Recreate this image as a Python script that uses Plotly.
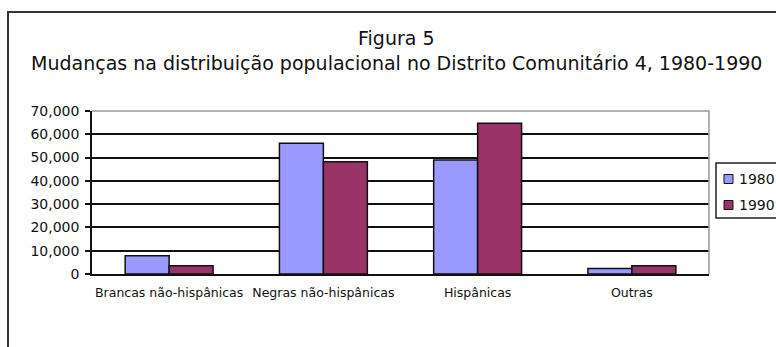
import plotly.graph_objects as go

categories = ["Brancas não-hispânicas", "Negras não-hispânicas", "Hispânicas", "Outras"]
series_names = ["1980", "1990"]
values_1980 = [7800, 56100, 49000, 2400]
values_1990 = [3500, 48200, 64700, 3500]
colors = ["#9999FF", "#993366"]
y_ticks = [0, 10000, 20000, 30000, 40000, 50000, 60000, 70000]

W, H = 776, 347
L, R, T, B = 92, 709, 111, 274  # plot area pixels


def px(x):
    return (x - L) / (R - L)


def py(y):
    return (B - y) / (B - T)


fig = go.Figure()
for name, vals, col in zip(series_names, [values_1980, values_1990], colors):
    fig.add_trace(go.Bar(
        x=categories, y=vals, name=name,
        marker=dict(color=col, line=dict(color="#111111", width=1.5)),
        showlegend=False,
    ))

shapes = []
# plot area border (top & right), gray
shapes.append(dict(type="path", xref="paper", yref="paper",
                   path="M 0,1 L 1,1 L 1,0", line=dict(color="#999999", width=1.5),
                   layer="above"))
# outer chart frame (top & left)
shapes.append(dict(type="path", xref="paper", yref="paper",
                   path=f"M {px(8)},{py(350)} L {px(8)},{py(12)} L {px(780)},{py(12)}",
                   line=dict(color="#333333", width=2)))
# legend box
shapes.append(dict(type="rect", xref="paper", yref="paper",
                   x0=px(716), x1=px(790), y0=py(218), y1=py(163),
                   line=dict(color="#222222", width=1.5), fillcolor="white"))

annotations = [
    dict(text="Figura 5", xref="paper", yref="paper", x=px(396), y=py(38),
         showarrow=False, xanchor="center", yanchor="middle",
         font=dict(family="DejaVu Sans", size=19, color="#111111")),
    dict(text="Mudanças na distribuição populacional no Distrito Comunitário 4, 1980-1990",
         xref="paper", yref="paper", x=px(396), y=py(63),
         showarrow=False, xanchor="center", yanchor="middle",
         font=dict(family="DejaVu Sans", size=19, color="#111111")),
]

legend_rows = [179, 205]
for name, col, yc in zip(series_names, colors, legend_rows):
    shapes.append(dict(type="rect", xref="paper", yref="paper",
                       x0=px(724), x1=px(733), y0=py(yc + 4.5), y1=py(yc - 4.5),
                       line=dict(color="#111111", width=1), fillcolor=col))
    annotations.append(dict(text=name, xref="paper", yref="paper", x=px(737), y=py(yc),
                            showarrow=False, xanchor="left", yanchor="middle",
                            font=dict(family="DejaVu Sans", size=14, color="#111111")))

fig.update_layout(
    width=W, height=H,
    margin=dict(l=L, r=W - R, t=T, b=H - B, pad=0),
    paper_bgcolor="white", plot_bgcolor="white",
    barmode="group", bargap=0.43, bargroupgap=0,
    showlegend=False,
    shapes=shapes, annotations=annotations,
    font=dict(family="DejaVu Sans", color="#111111"),
)
fig.update_yaxes(
    range=[0, 70000], tickvals=y_ticks, tickformat=",d",
    showgrid=True, gridcolor="#111111", gridwidth=1.8,
    showline=True, linecolor="#111111", linewidth=1.5,
    ticks="outside", ticklen=5, tickcolor="#111111", tickwidth=1.5,
    tickfont=dict(family="DejaVu Sans", size=14, color="#111111"),
    ticklabelstandoff=3, zeroline=False, fixedrange=True,
)
fig.update_xaxes(
    showline=True, linecolor="#111111", linewidth=1.5,
    ticks="", tickfont=dict(family="DejaVu Sans", size=12.5, color="#111111"),
    ticklabelstandoff=6, fixedrange=True,
)

fig.write_html("out.html", config={"displayModeBar": False})
